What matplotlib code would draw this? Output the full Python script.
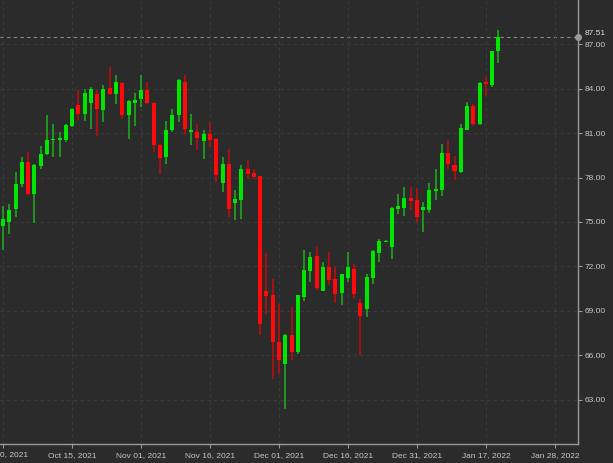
import numpy as np
import matplotlib
matplotlib.use('Agg')
import matplotlib.pyplot as plt

# daily OHLC (trading-day index 0 = Sep 30, 2021)
opens = [74.70, 75.00, 75.90, 77.54, 79.05, 76.91, 78.76, 79.57, 80.51, 80.55,
         80.51, 81.48, 82.93, 82.32, 83.03, 83.67, 82.59, 84.05, 83.67, 84.41,
         82.20, 83.03, 83.33, 83.94, 83.06, 80.18, 79.39, 81.19, 82.20, 84.45,
         81.07, 81.07, 80.47, 80.97, 80.63, 77.63, 78.89, 76.30, 76.46, 78.55,
         78.30, 78.08, 70.33, 70.10, 66.89, 65.38, 67.39, 66.21, 69.93, 71.66,
         72.68, 70.33, 71.95, 71.17, 70.20, 71.24, 71.84, 69.52, 69.14, 71.24,
         72.93, 73.67, 73.30, 75.89, 75.97, 76.64, 76.46, 75.78, 75.78, 77.09,
         77.14, 79.66, 78.82, 78.37, 81.24, 82.81, 81.59, 84.45, 84.23, 86.53]
highs = [76.07, 76.24, 78.37, 79.39, 79.72, 78.89, 80.11, 82.20, 81.64, 81.07,
         81.64, 82.70, 83.89, 84.00, 84.11, 83.89, 84.23, 85.47, 84.91, 84.45,
         83.22, 83.74, 84.91, 84.45, 83.10, 80.29, 81.82, 82.65, 84.68, 84.91,
         82.32, 81.59, 81.24, 81.75, 80.70, 79.39, 79.95, 77.17, 78.82, 79.16,
         78.60, 78.10, 72.90, 71.17, 69.48, 67.45, 69.25, 70.10, 73.08, 72.97,
         73.30, 72.29, 72.97, 71.95, 71.51, 72.97, 72.18, 69.82, 71.51, 73.08,
         73.87, 73.80, 76.01, 76.91, 77.36, 77.36, 77.32, 76.35, 77.63, 78.60,
         80.24, 80.51, 79.43, 81.59, 83.10, 82.95, 84.45, 84.79, 86.55, 87.95]
lows = [73.08, 74.21, 75.33, 77.36, 76.85, 74.95, 78.60, 79.50, 79.39, 79.39,
        80.40, 81.41, 81.86, 81.80, 81.26, 80.78, 81.75, 83.55, 82.99, 81.98,
        80.63, 81.46, 82.76, 82.99, 79.72, 78.26, 78.94, 81.07, 81.75, 80.85,
        80.18, 79.84, 79.28, 80.06, 77.70, 77.02, 75.33, 75.11, 75.22, 77.99,
        77.93, 67.34, 68.80, 64.41, 64.75, 62.39, 65.65, 66.10, 69.66, 70.94,
        70.38, 70.33, 70.72, 69.52, 69.36, 70.94, 69.82, 65.99, 68.57, 70.83,
        72.29, 73.62, 72.52, 75.56, 75.38, 75.78, 74.99, 74.32, 75.60, 76.46,
        76.73, 78.60, 77.86, 78.30, 81.19, 81.46, 81.53, 83.49, 84.11, 85.76]
closes = [75.18, 75.78, 77.59, 79.05, 76.91, 78.82, 79.61, 80.51, 80.63, 80.65,
          81.53, 82.61, 82.27, 83.74, 84.00, 82.61, 84.00, 83.67, 84.45, 82.20,
          83.15, 83.26, 83.94, 83.03, 80.18, 79.34, 81.24, 82.25, 84.57, 81.30,
          81.24, 80.67, 80.97, 80.56, 78.15, 78.89, 75.90, 76.53, 78.55, 78.26,
          78.03, 68.13, 69.97, 66.89, 65.65, 67.34, 66.21, 70.04, 71.73, 72.63,
          70.56, 71.95, 71.05, 70.16, 71.46, 71.95, 70.16, 68.64, 71.28, 73.03,
          73.71, 73.74, 75.97, 76.05, 76.61, 76.41, 75.33, 76.01, 77.18, 77.25,
          79.66, 78.89, 78.44, 81.37, 82.81, 81.64, 84.39, 84.30, 86.55, 87.51]

tick_labels = ['Sep 30, 2021', 'Oct 15, 2021', 'Nov 01, 2021', 'Nov 16, 2021',
               'Dec 01, 2021', 'Dec 16, 2021', 'Dec 31, 2021', 'Jan 17, 2022',
               'Jan 28, 2022']
price_ticks = [63, 66, 69, 72, 75, 78, 81, 84, 87]
last_price = 87.51

bg = '#2a2b2a'
up_body, up_wick = '#00e600', '#1e9e1e'
dn_body, dn_wick = '#ff0a0a', '#b01010'
txt = '#c8c8c8'

plt.rcParams['font.family'] = ['Liberation Sans', 'DejaVu Sans']

fig = plt.figure(figsize=(6.13, 4.63), dpi=100, facecolor=bg)
ax = fig.add_axes([0, 19 / 463, 578 / 613, 444 / 463], facecolor=bg)

x = np.arange(len(closes))
o = np.array(opens)
c = np.array(closes)
up = c >= o

for i in x:
    wc = up_wick if up[i] else dn_wick
    bc = up_body if up[i] else dn_body
    ax.vlines(i, lows[i], highs[i], color=wc, lw=1.3, zorder=2)
    lo, hi = min(o[i], c[i]), max(o[i], c[i])
    ax.bar(i, max(hi - lo, 0.08), bottom=lo, width=0.64, color=bc,
           edgecolor='none', zorder=3)

ax.set_xlim(-0.5, 91.7)
ax.set_ylim(60.0, 90.0)

ax.set_xticks(np.arange(len(tick_labels)) * 11)
ax.set_xticklabels(tick_labels)
ax.set_yticks(price_ticks)
ax.set_yticklabels(['%.2f' % v for v in price_ticks])
ax.yaxis.tick_right()

ax.grid(True, color='#393a39', lw=0.8, ls=(0, (3, 3)), zorder=0)
ax.tick_params(axis='both', colors='#9a9a9a', labelcolor=txt, labelsize=6,
               length=3, width=0.8)
ax.tick_params(axis='x', pad=3)
ax.tick_params(axis='y', pad=2)

for s in ['top', 'left']:
    ax.spines[s].set_visible(False)
for s in ['right', 'bottom']:
    ax.spines[s].set_color('#9a9a9a')
    ax.spines[s].set_linewidth(1.0)

# last price line and marker
ax.axhline(last_price, color='#8a8a8a', lw=0.8, ls=(0, (3, 3)), zorder=1)
ax.plot([1], [last_price], 'o', color='#9a9a9a', ms=4, clip_on=False,
        transform=ax.get_yaxis_transform(), zorder=5)
ax.text(1.012, last_price, '%.2f' % last_price, color='#dcdcdc', fontsize=6,
        va='bottom', ha='left', transform=ax.get_yaxis_transform())

fig.savefig('out.png', dpi=100, facecolor=bg)
